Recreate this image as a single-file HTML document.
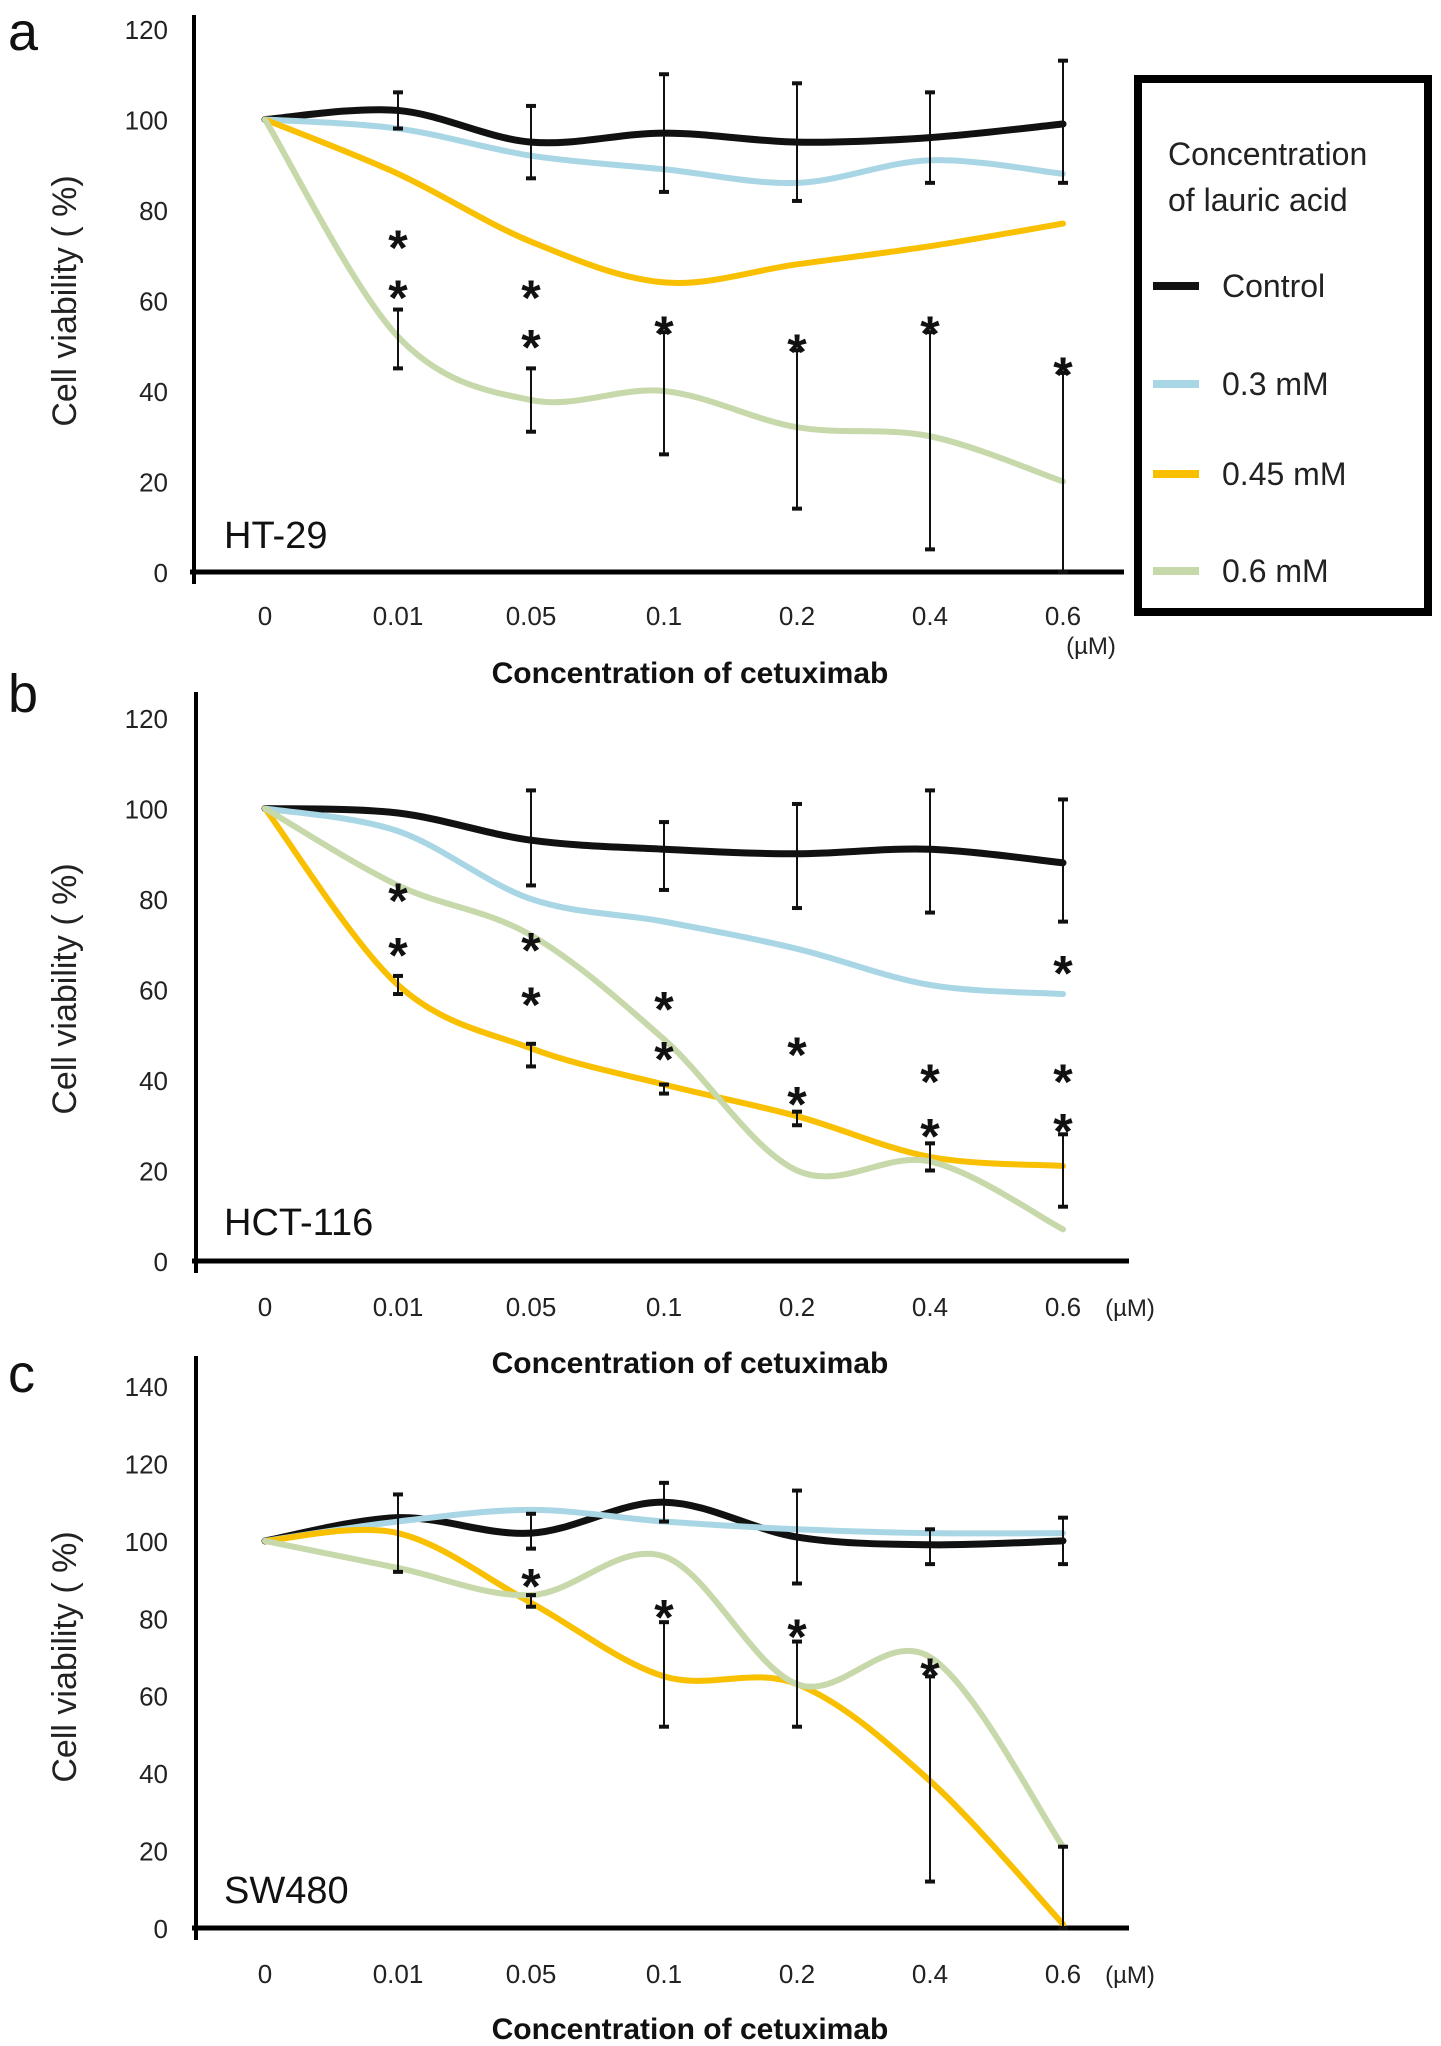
<!DOCTYPE html>
<html><head><meta charset="utf-8">
<style>
html,body{margin:0;padding:0;background:#fff;}
svg{display:block;}
text{font-family:"Liberation Sans",sans-serif;}
</style></head>
<body>
<svg id="fig" width="1441" height="2046" viewBox="0 0 1441 2046" xmlns="http://www.w3.org/2000/svg">
<g>
<rect x="1138" y="79" width="290" height="533" fill="#fff" stroke="#000" stroke-width="8"/>
<text x="1168" y="165" font-size="32" fill="#222">Concentration</text>
<text x="1168" y="211" font-size="32" fill="#222">of lauric acid</text>
<g><rect x="1153" y="282" width="46" height="8" fill="#111"/><text x="1222" y="297" font-size="32" fill="#222">Control</text></g>
<g><rect x="1153" y="380" width="46" height="8" fill="#a9d6e5"/><text x="1222" y="395" font-size="32" fill="#222">0.3 mM</text></g>
<g><rect x="1153" y="470" width="46" height="8" fill="#f8c000"/><text x="1222" y="485" font-size="32" fill="#222">0.45 mM</text></g>
<g><rect x="1153" y="567" width="46" height="8" fill="#c7d8aa"/><text x="1222" y="582" font-size="32" fill="#222">0.6 mM</text></g>
</g>
</svg>
<script>
const categories = ["0","0.01","0.05","0.1","0.2","0.4","0.6"];
const seriesNames = ["Control","0.3 mM","0.45 mM","0.6 mM"];
const seriesColors = ["#111111","#a9d6e5","#f8c000","#c7d8aa"];

const aControl = [100,102,95,97,95,96,99];
const aLow = [100,98,92,89,86,91,88];
const aMid = [100,88,73,64,68,72,77];
const aHigh = [100,52,38,40,32,30,20];
const aErrors = [[1,98,106],[1,45,58],[2,87,103],[2,31,45],[3,84,110],[3,26,53],[4,82,108],[4,14,49],[5,86,106],[5,5,53],[6,86,113],[6,0,44]];
const aStars = [[1,74],[1,63],[2,63],[2,52],[3,55],[4,51],[5,55],[6,46]];
const aTicks = [0,20,40,60,80,100,120];

const bControl = [100,99,93,91,90,91,88];
const bLow = [100,95,80,75,69,61,59];
const bMid = [100,61,47,39,32,23,21];
const bHigh = [100,83,72,49,20,22,7];
const bErrors = [[1,59,63],[2,43,48],[2,83,104],[3,37,39],[3,82,97],[4,30,33],[4,78,101],[5,20,26],[5,77,104],[6,12,28],[6,75,102]];
const bStars = [[1,82],[1,70],[2,71],[2,59],[3,58],[3,47],[4,48],[4,37],[5,42],[5,30],[6,42],[6,31],[6,66]];
const bTicks = [0,20,40,60,80,100,120];

const cControl = [100,106,102,110,101,99,100];
const cLow = [100,105,108,105,103,102,102];
const cMid = [100,102,84,65,63,38,1];
const cHigh = [100,93,86,96,63,70,21];
const cErrors = [[1,92,112],[2,98,107],[2,83,86],[3,52,79],[3,105,115],[4,52,74],[4,89,113],[5,12,65],[5,94,103],[6,0,21],[6,94,106]];
const cStars = [[2,91],[3,83],[4,78],[5,68]];
const cTicks = [0,20,40,60,80,100,120,140];

const NS = "http://www.w3.org/2000/svg";
const svg = document.getElementById('fig');
function mk(tag, attrs, parent){const e=document.createElementNS(NS,tag);for(const k in attrs)e.setAttribute(k,attrs[k]);(parent||svg).appendChild(e);return e;}

function smooth(pts){
  let d = "M"+pts[0][0]+","+pts[0][1];
  for(let i=0;i<pts.length-1;i++){
    const p0=pts[Math.max(0,i-1)],p1=pts[i],p2=pts[i+1],p3=pts[Math.min(pts.length-1,i+2)];
    const t=6;
    const c1=[p1[0]+(p2[0]-p0[0])/t,p1[1]+(p2[1]-p0[1])/t];
    const c2=[p2[0]-(p3[0]-p1[0])/t,p2[1]-(p3[1]-p1[1])/t];
    d+=" C"+c1[0]+","+c1[1]+" "+c2[0]+","+c2[1]+" "+p2[0]+","+p2[1];
  }
  return d;
}

function panel(o){
  const g = mk('g',{});
  
  
  const xs = i => o.x0 + i*133;
  const ys = v => o.y0 - v*o.k;
  const L = mk('text',{x:8,y:o.letterY,'font-size':54,fill:'#111'},g); L.textContent=o.letter;
  
  
  const yt = mk('text',{x:0,y:0,'font-size':34,fill:'#222','text-anchor':'middle',transform:`translate(76,${o.titleY}) rotate(-90)`},g);
  yt.textContent="Cell viability ( %)";
  
  
  const ya = mk('line',{x1:o.ax,y1:o.top,x2:o.ax,y2:o.y0+12,stroke:'#000','stroke-width':4},g);
  
  
  const xa = mk('line',{x1:o.ax-4,y1:o.y0,x2:o.xend,y2:o.y0,stroke:'#000','stroke-width':5},g);
  
  
  o.ticks.forEach(t=>{
    const tl = mk('text',{x:168,y:ys(t)+10,'font-size':26,fill:'#222','text-anchor':'end'},g);
    tl.textContent=t;
    
    
  });
  categories.forEach((c,i)=>{
    const tl = mk('text',{x:xs(i),y:o.labY+9,'font-size':26,fill:'#222','text-anchor':'middle'},g);
    tl.textContent=c;
    
    
  });
  const um = mk('text',{x:o.umX,y:o.umY,'font-size':24,fill:'#222','text-anchor':'middle'},g);
  um.textContent="(\u00b5M)";
  
  
  const xt = mk('text',{x:690,y:o.xtY+11,'font-size':30,'font-weight':'bold',fill:'#111','text-anchor':'middle'},g);
  xt.textContent="Concentration of cetuximab";
  
  
  const cl = mk('text',{x:224,y:o.cellY,'font-size':38,fill:'#111'},g);
  cl.textContent=o.cell;
  
  
  o.series.forEach((s,si)=>{
    const p = mk('path',{d:smooth(s.map((v,i)=>[xs(i),ys(v)])),fill:'none',stroke:seriesColors[si],'stroke-width':si===0?7:6,'stroke-linecap':'round'},g);
    
    
  });
  o.errors.forEach(e=>{
    const eg = mk('g',{stroke:'#111','stroke-width':2},g);
    
    
    const x=xs(e[0]);
    mk('line',{x1:x,y1:ys(e[1]),x2:x,y2:ys(e[2])},eg);
    mk('line',{x1:x-5,y1:ys(e[1]),x2:x+5,y2:ys(e[1]),'stroke-width':4},eg);
    mk('line',{x1:x-5,y1:ys(e[2]),x2:x+5,y2:ys(e[2]),'stroke-width':4},eg);
  });
  o.stars.forEach(s=>{
    const st = mk('text',{x:xs(s[0]),y:ys(s[1])+28,'font-size':50,'font-weight':'bold',fill:'#111','text-anchor':'middle'},g);
    st.textContent="*";
    
    
  });
}

panel({letter:'a',letterY:50,titleY:301,ax:194,top:15,y0:572,k:4.525,x0:265,xend:1124,ticks:aTicks,labY:616,umX:1091,umY:654,xtY:672,cell:'HT-29',cellY:548,series:[aControl,aLow,aMid,aHigh],errors:aErrors,stars:aStars});
panel({letter:'b',letterY:712,titleY:989,ax:196,top:692,y0:1261,k:4.525,x0:265,xend:1129,ticks:bTicks,labY:1307,umX:1130,umY:1316,xtY:1362,cell:'HCT-116',cellY:1235,series:[bControl,bLow,bMid,bHigh],errors:bErrors,stars:bStars});
panel({letter:'c',letterY:1392,titleY:1657,ax:196,top:1356,y0:1928,k:3.871,x0:265,xend:1129,ticks:cTicks,labY:1974,umX:1130,umY:1983,xtY:2028,cell:'SW480',cellY:1903,series:[cControl,cLow,cMid,cHigh],errors:cErrors,stars:cStars});
</script>
</body></html>
